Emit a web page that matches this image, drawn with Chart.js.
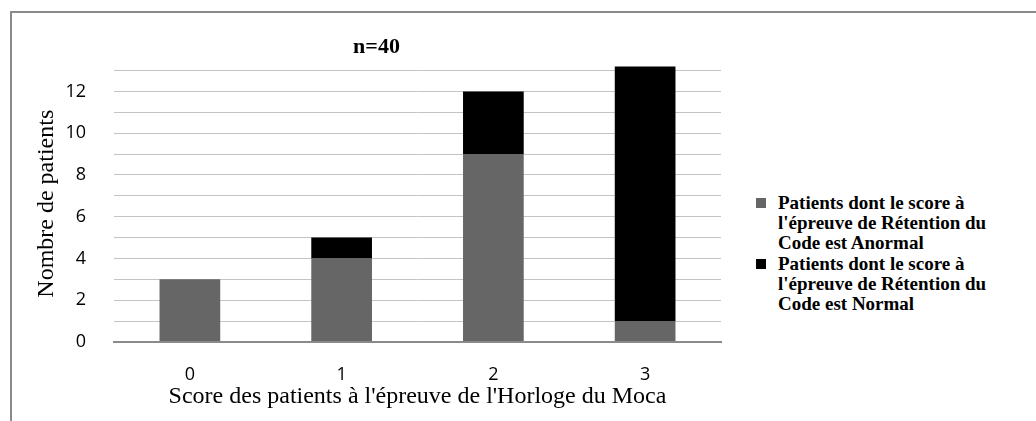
<!DOCTYPE html>
<html>
<head>
<meta charset="utf-8">
<script src="https://cdn.jsdelivr.net/npm/chart.js@4"></script>
<style>
  body { margin: 0; background: #fff; }
  #frame { position: absolute; left: 10px; top: 11px; width: 1100px; height: 500px;
           border-top: 2px solid #8a8a8a; border-left: 2px solid #8a8a8a; }
  #wrap { position: absolute; left: 0; top: 0; width: 756px; height: 421px; }
  #legend { position: absolute; left: 756px; top: 193px; font-family: "Liberation Serif", serif;
            font-size: 19px; font-weight: bold; line-height: 20.2px; color: #000; }
  .item { position: relative; padding-left: 22px; }
  .sw { position: absolute; left: 0; top: 5px; width: 10px; height: 10px; }
</style>
</head>
<body>
<div id="frame"></div>
<div id="wrap"><canvas id="myChart"></canvas></div>
<div id="legend"></div>
<script>
var categories = ['0', '1', '2', '3'];
var seriesNames = [
    ["Patients dont le score à", "l'épreuve de Rétention du", "Code est Anormal"],
    ["Patients dont le score à", "l'épreuve de Rétention du", "Code est Normal"]
];
var anormal = [3, 4, 9, 1];
var normal = [0, 1, 3, 12.2];
var yTicks = [0, 1, 2, 3, 4, 5, 6, 7, 8, 9, 10, 11, 12, 13];
var colors = ['#666666', '#000000'];

var legend = document.getElementById('legend');
seriesNames.forEach(function (lines, i) {
    var d = document.createElement('div');
    d.className = 'item';
    d.innerHTML = '<span class="sw" style="background:' + colors[i] + '"></span>' + lines.join('<br>');
    legend.appendChild(d);
});

var ctx = document.getElementById('myChart').getContext('2d');
var myChart = new Chart(ctx, {
    type: 'bar',
    data: {
        labels: categories,
        datasets: [{
            label: seriesNames[0].join(' '),
            data: anormal,
            backgroundColor: colors[0],
            barPercentage: 0.4,
            categoryPercentage: 1
        }, {
            label: seriesNames[1].join(' '),
            data: normal,
            backgroundColor: colors[1],
            barPercentage: 0.4,
            categoryPercentage: 1
        }]
    },
    options: {
        responsive: true,
        maintainAspectRatio: false,
        animation: false,
        layout: { padding: { left: 32, right: 35, top: 34, bottom: 0 } },
        plugins: {
            legend: { display: false },
            tooltip: { enabled: false },
            title: {
                display: true,
                text: 'n=40',
                color: '#000',
                font: { family: 'Liberation Serif', size: 22, weight: 'bold' },
                padding: { top: 0, bottom: 5 }
            }
        },
        scales: {
            x: {
                stacked: true,
                afterFit: function (scale) { scale.height = 79; },
                grid: { display: false, drawTicks: false },
                border: { color: '#8a8a8a', width: 2 },
                ticks: { color: '#000', padding: 22, font: { family: 'Open Sans', size: 18 } },
                title: {
                    display: true,
                    text: "Score des patients à l'épreuve de l'Horloge du Moca",
                    color: '#000',
                    font: { family: 'Liberation Serif', size: 24 },
                    padding: { top: 10, bottom: 10 }
                }
            },
            y: {
                stacked: true,
                min: 0,
                max: 13.25,
                afterBuildTicks: function (scale) {
                    scale.ticks = yTicks.map(function (v) { return { value: v }; });
                },
                afterFit: function (scale) { scale.width = 82; },
                grid: {
                    drawTicks: false,
                    color: function (c) { return c.tick && c.tick.value === 0 ? '#8a8a8a' : '#c4c4c4'; },
                    lineWidth: function (c) { return c.tick && c.tick.value === 0 ? 2 : 1; }
                },
                border: { display: false },
                ticks: {
                    autoSkip: false,
                    padding: 28,
                    color: '#000',
                    font: { family: 'Open Sans', size: 18 },
                    callback: function (v) { return v % 2 === 0 ? v : ''; }
                },
                title: {
                    display: true,
                    text: 'Nombre de patients',
                    color: '#000',
                    font: { family: 'Liberation Serif', size: 24 },
                    padding: { top: 0, bottom: 0 }
                }
            }
        }
    }
});
</script>
</body>
</html>
